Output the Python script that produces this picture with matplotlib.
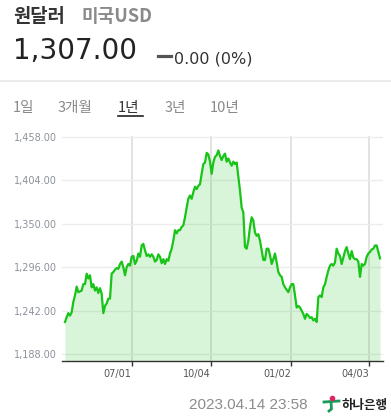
import numpy as np
import matplotlib
matplotlib.use('Agg')
import matplotlib.pyplot as plt
from matplotlib.lines import Line2D

# USD/KRW, one year of closes (evenly spaced samples)
rate = [1228, 1234, 1239, 1236, 1240, 1253, 1261, 1272, 1265, 1266, 1267, 1275,
        1275, 1288, 1282, 1286, 1271, 1275, 1267, 1271, 1264, 1270, 1263, 1239,
        1248, 1251, 1257, 1257, 1288, 1290, 1293, 1295, 1294, 1300, 1303, 1296,
        1286, 1296, 1300, 1298, 1309, 1310, 1300, 1304, 1313, 1309, 1323, 1325,
        1317, 1310, 1312, 1309, 1312, 1309, 1303, 1305, 1312, 1309, 1301, 1306,
        1300, 1306, 1304, 1313, 1319, 1329, 1342, 1338, 1342, 1342, 1346, 1348,
        1358, 1370, 1381, 1385, 1381, 1389, 1396, 1393, 1397, 1399, 1412, 1424,
        1426, 1438, 1436, 1427, 1412, 1426, 1433, 1435, 1441, 1434, 1429, 1434,
        1437, 1427, 1431, 1426, 1422, 1427,
        1424, 1426, 1408, 1391, 1370, 1364, 1321, 1319, 1329, 1346, 1358, 1354,
        1339, 1335, 1337, 1329, 1317, 1305, 1305, 1319, 1319, 1311, 1300, 1306,
        1313, 1302, 1290, 1286, 1284, 1275, 1271, 1268, 1265, 1271, 1275, 1275,
        1261, 1246, 1248, 1246, 1242, 1238, 1232, 1238, 1236, 1233, 1234, 1230,
        1232, 1228,
        1259, 1261, 1259, 1271, 1275, 1284, 1292, 1298, 1300, 1298, 1302, 1319,
        1313, 1310, 1300, 1308, 1316, 1321, 1313, 1306, 1316, 1308, 1306, 1306,
        1303, 1284, 1300, 1298, 1300, 1309, 1313, 1315, 1318, 1319, 1323, 1323,
        1315, 1307]

y_ticks = [1188, 1242, 1296, 1350, 1404, 1458]
x_tick_pos = [40, 87.6, 135.8, 182.6]
x_tick_labels = ['07/01', '10/04', '01/02', '04/03']
tabs = ['1일', '3개월', '1년', '3년', '10년']
tab_x = [13, 58, 118, 165, 210]

KR = ['Noto Sans CJK KR', 'DejaVu Sans']
W, H = 391, 417

fig = plt.figure(figsize=(W / 100, H / 100), dpi=100)


def P(x, y):
    return x / W, 1 - y / H


# header
fig.text(*P(13, 17), '원달러', family=KR, fontsize=13.5, fontweight='bold',
         color='#333333', va='center')
fig.text(*P(81, 17), '미국USD', family=KR, fontsize=13, fontweight='bold',
         color='#8a8a8a', va='center')
fig.text(*P(13, 58.5), '1,307.00', fontsize=20, color='#222222', va='baseline')
fig.add_artist(Line2D([158 / W, 171 / W], [1 - 55.7 / H, 1 - 55.7 / H],
                      color='#555555', lw=2.3, transform=fig.transFigure))
fig.text(*P(174, 64), '0.00 (0%)', fontsize=11.5, color='#333333', va='baseline')
fig.add_artist(Line2D([0, 1], [1 - 81 / H, 1 - 81 / H], color='#ebebeb', lw=1.5,
                      transform=fig.transFigure))

# period tabs
for t, tx in zip(tabs, tab_x):
    c = '#333333' if t == '1년' else '#8a8a8a'
    fig.text(*P(tx, 108), t, family=KR, fontsize=10.5, color=c, va='center')
fig.add_artist(Line2D([118 / W, 143 / W], [1 - 116 / H, 1 - 116 / H],
                      color='#222222', lw=1.2, transform=fig.transFigure))

# chart
ax = fig.add_axes([62 / W, (H - 361) / H, 321 / W, 225 / H])
x = np.arange(len(rate))
ax.plot(x, rate, color='#17c417', lw=1.6, zorder=3)
ax.set_xlim(-1.8, 190.8)
ax.set_ylim(1179.6, 1458.9)
ax.fill_between(x, rate, 1179.6, color='#22c422', alpha=0.17, lw=0, zorder=2)

ax.set_yticks(y_ticks)
ax.set_yticklabels(['{:,.2f}'.format(v) for v in y_ticks])
ax.set_xticks(x_tick_pos)
ax.set_xticklabels(x_tick_labels, ha='right')
ax.tick_params(axis='y', length=0, pad=3.5, labelsize=7, labelcolor='#8d929b')
ax.tick_params(axis='x', length=3.6, width=1, color='#333333', pad=2.5,
               labelsize=7, labelcolor='#555555')
ax.grid(axis='y', color='#ececec', lw=1)
ax.grid(axis='x', color='#dddddd', lw=1.2)
ax.set_axisbelow(True)
for s in ['top', 'right', 'left']:
    ax.spines[s].set_visible(False)
ax.spines['bottom'].set_color('#333333')
ax.spines['bottom'].set_linewidth(1)

# footer
fig.text(*P(189, 405), '2023.04.14 23:58', family=['Liberation Sans'],
         fontsize=11, color='#8c8c8c', va='center')
fig.add_artist(Line2D([324 / W, 339 / W], [1 - 402 / H, 1 - 401 / H],
                      color='#1a9a5a', lw=2, transform=fig.transFigure))
fig.add_artist(Line2D([331 / W, 331.5 / W, 329 / W],
                      [1 - 402 / H, 1 - 409 / H, 1 - 411 / H],
                      color='#1a9a5a', lw=2, transform=fig.transFigure))
fig.add_artist(Line2D([331.7 / W], [1 - 397.5 / H], marker='o', ms=3,
                      color='#e0245e', lw=0, transform=fig.transFigure))
fig.text(*P(342, 405), '하나은행', family=KR, fontsize=9, fontweight='bold',
         color='#222222', va='center')

fig.savefig('out.png', dpi=100)
